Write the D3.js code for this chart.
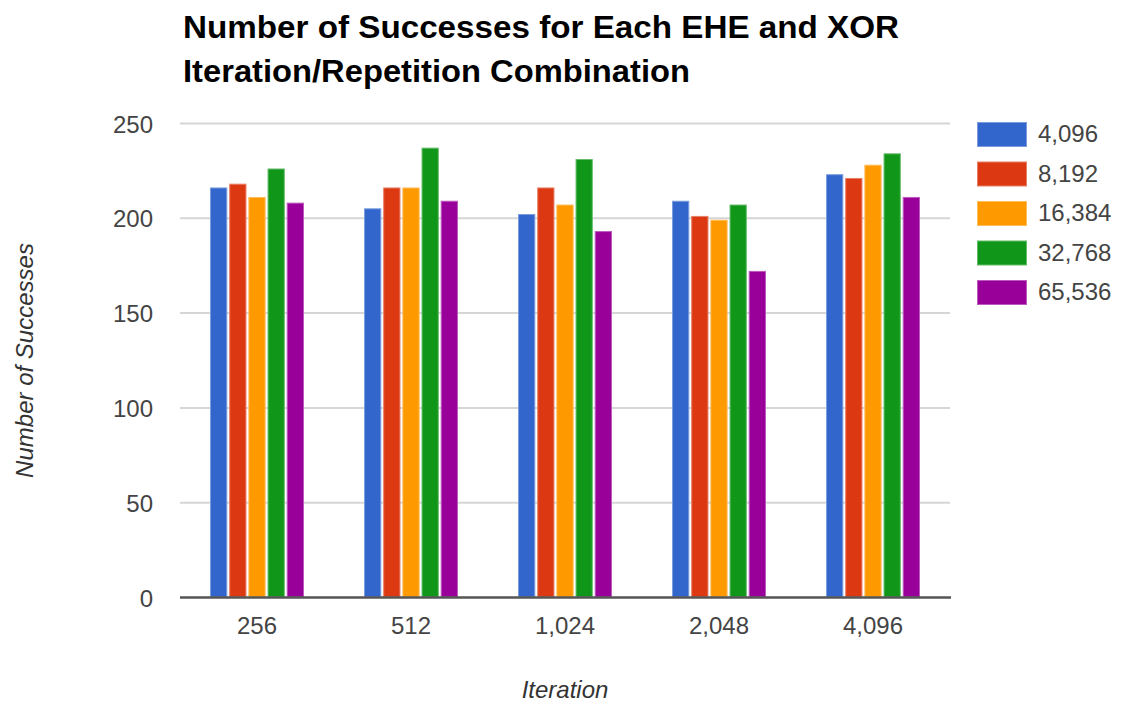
<!DOCTYPE html>
<html>
<head>
<meta charset="utf-8">
<script src="https://cdn.jsdelivr.net/npm/d3@7"></script>
<style>
  html, body { margin: 0; padding: 0; background: #fff; }
  svg { display: block; font-family: "Liberation Sans", Arial, sans-serif; }
</style>
</head>
<body>
<svg id="chart" width="1122" height="706"></svg>
<script>
// Iteration counts along the x axis
const iterations = ["256", "512", "1,024", "2,048", "4,096"];
// Repetition counts, one bar per series in each group
const repetitions = ["4,096", "8,192", "16,384", "32,768", "65,536"];
// Successes per repetition series, in iteration order
const rep4096  = [216, 205, 202, 209, 223];
const rep8192  = [218, 216, 216, 201, 221];
const rep16384 = [211, 216, 207, 199, 228];
const rep32768 = [226, 237, 231, 207, 234];
const rep65536 = [208, 209, 193, 172, 211];
const yTicks = [0, 50, 100, 150, 200, 250];
const colors = ["#3366cc", "#dc3912", "#ff9900", "#109618", "#990099"];

const seriesValues = [rep4096, rep8192, rep16384, rep32768, rep65536];

const svg = d3.select("#chart");
const plot = { left: 180, right: 950, top: 123, bottom: 597 };

const x0 = d3.scaleBand()
  .domain(iterations)
  .range([plot.left, plot.right])
  .paddingInner(0.39)
  .paddingOuter(0.195);

const x1 = d3.scaleBand()
  .domain(repetitions)
  .range([0, x0.bandwidth()])
  .paddingInner(0.1);

const y = d3.scaleLinear()
  .domain([0, 250])
  .range([plot.bottom, plot.top]);

const color = d3.scaleOrdinal().domain(repetitions).range(colors);

// Horizontal gridlines with value labels
const yAxis = svg.append("g")
  .attr("transform", `translate(${plot.left},0)`)
  .call(d3.axisLeft(y).tickValues(yTicks).tickSize(-(plot.right - plot.left)).tickPadding(27));
yAxis.select(".domain").remove();
yAxis.selectAll(".tick line")
  .attr("stroke", "#d6d6d6")
  .attr("stroke-width", 2)
  .filter(d => d === 0).remove();
yAxis.selectAll(".tick text")
  .attr("fill", "#444")
  .attr("font-size", 24)
  .attr("font-family", "Liberation Sans, Arial, sans-serif")
  .attr("dy", "0.38em");

// Grouped bars
const groups = svg.append("g")
  .selectAll("g")
  .data(iterations)
  .join("g")
  .attr("transform", d => `translate(${x0(d)},0)`);

groups.selectAll("rect")
  .data((d, i) => repetitions.map((r, j) => ({ rep: r, value: seriesValues[j][i] })))
  .join("rect")
  .attr("x", d => x1(d.rep) + 0.5)
  .attr("y", d => y(d.value) + 0.5)
  .attr("width", x1.bandwidth() - 1)
  .attr("height", d => y(0) - y(d.value) - 0.5)
  .attr("fill", d => color(d.rep))
  .attr("stroke", d => d3.interpolateRgb(color(d.rep), "#fff")(0.35))
  .attr("stroke-width", 1);

// Category axis along the baseline
const xAxis = svg.append("g")
  .attr("transform", `translate(0,${plot.bottom})`)
  .call(d3.axisBottom(x0).tickSize(0).tickPadding(20));
xAxis.select(".domain").remove();
xAxis.selectAll(".tick text")
  .attr("fill", "#444")
  .attr("font-size", 24)
  .attr("font-family", "Liberation Sans, Arial, sans-serif");

svg.append("line")
  .attr("x1", plot.left).attr("x2", plot.right + 1)
  .attr("y1", y(0) + 0.5).attr("y2", y(0) + 0.5)
  .attr("stroke", "#555")
  .attr("stroke-width", 2.5);

// Title
const title = svg.append("g")
  .attr("font-weight", "bold")
  .attr("font-size", 31)
  .attr("fill", "#000");
title.append("text")
  .attr("x", 183).attr("y", 37.5)
  .attr("textLength", 716).attr("lengthAdjust", "spacingAndGlyphs")
  .text("Number of Successes for Each EHE and XOR");
title.append("text")
  .attr("x", 183).attr("y", 82)
  .attr("textLength", 507).attr("lengthAdjust", "spacingAndGlyphs")
  .text("Iteration/Repetition Combination");

// Axis titles
svg.append("text")
  .attr("x", (plot.left + plot.right) / 2)
  .attr("y", 698)
  .attr("text-anchor", "middle")
  .attr("font-style", "italic")
  .attr("font-size", 24)
  .attr("fill", "#333")
  .text("Iteration");

svg.append("text")
  .attr("transform", "translate(33,360.5) rotate(-90)")
  .attr("text-anchor", "middle")
  .attr("font-style", "italic")
  .attr("font-size", 24)
  .attr("fill", "#333")
  .text("Number of Successes");

// Legend
const legend = svg.append("g")
  .selectAll("g")
  .data(repetitions)
  .join("g")
  .attr("transform", (d, i) => `translate(977,${122 + i * 39.5})`);
legend.append("rect")
  .attr("x", 0.5).attr("y", 0.5)
  .attr("width", 49).attr("height", 24)
  .attr("fill", d => color(d))
  .attr("stroke", d => d3.interpolateRgb(color(d), "#fff")(0.35));
legend.append("text")
  .attr("x", 61).attr("y", 20)
  .attr("font-size", 24)
  .attr("fill", "#444")
  .text(d => d);
</script>
</body>
</html>
